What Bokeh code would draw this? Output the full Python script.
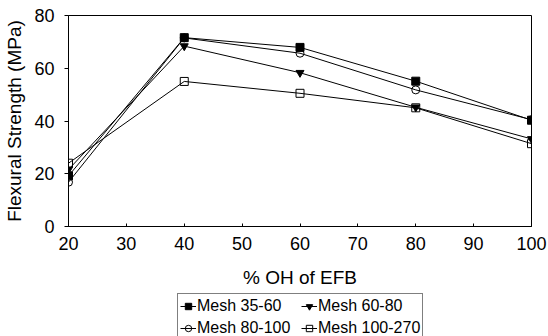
from bokeh.plotting import figure
from bokeh.layouts import column
from bokeh.models import Legend, LegendItem, Range1d, FixedTicker
from bokeh.embed import file_html
from bokeh.resources import INLINE

x_pct = [20, 40, 60, 80, 100]
mesh_35_60 = [19.2, 71.6, 67.9, 55.1, 40.3]
mesh_60_80 = [21.6, 68.4, 58.3, 45.2, 33.2]
mesh_80_100 = [16.8, 71.5, 65.7, 51.8, 40.5]
mesh_100_270 = [24.0, 55.0, 50.5, 45.0, 31.4]
series_labels = ["Mesh 35-60", "Mesh 60-80", "Mesh 80-100", "Mesh 100-270"]
x_ticks = [20, 30, 40, 50, 60, 70, 80, 90, 100]
y_ticks = [0, 20, 40, 60, 80]

FONT = "Liberation Sans"
series = [mesh_35_60, mesh_60_80, mesh_80_100, mesh_100_270]
markers = ["square", "inverted_triangle", "circle", "square"]
fills = ["black", "black", None, None]
sizes = [8, 8, 8, 8]

# main chart
p = figure(width=548, height=293, output_backend="svg", toolbar_location=None,
           x_range=Range1d(20, 100), y_range=Range1d(0, 80),
           min_border_left=68, min_border_right=17, min_border_top=15,
           min_border_bottom=67)
p.outline_line_color = "black"
p.outline_line_width = 1
p.xgrid.visible = False
p.ygrid.visible = False

for ax in (p.xaxis[0], p.yaxis[0]):
    ax.axis_line_color = "black"
    ax.major_tick_line_color = "black"
    ax.minor_tick_line_color = None
    ax.major_label_text_font = FONT
    ax.major_label_text_font_size = "18px"
    ax.major_label_text_color = "black"
    ax.axis_label_text_font = FONT
    ax.axis_label_text_font_size = "19px"
    ax.axis_label_text_font_style = "normal"
    ax.axis_label_text_color = "black"

p.xaxis.ticker = FixedTicker(ticks=x_ticks)
p.yaxis.ticker = FixedTicker(ticks=y_ticks)
p.xaxis.major_tick_in = 3
p.xaxis.major_tick_out = 0
p.xaxis.major_label_standoff = 10
p.xaxis.axis_label = "% OH of EFB"
p.xaxis.axis_label_standoff = 14
p.yaxis.major_tick_in = 0
p.yaxis.major_tick_out = 4
p.yaxis.major_label_standoff = 10
p.yaxis.axis_label = "Flexural Strength (MPa)"
p.yaxis.axis_label_standoff = 6

for ys, mk, fc, sz in zip(series, markers, fills, sizes):
    p.line(x_pct, ys, line_color="black", line_width=1)
    p.scatter(x_pct, ys, marker=mk, size=sz, line_color="black",
              fill_color=fc, line_width=1)

# legend strip below the chart
lg = figure(width=548, height=43, output_backend="svg", toolbar_location=None,
            x_range=Range1d(0, 1), y_range=Range1d(0, 1),
            x_axis_location=None, y_axis_location=None,
            min_border_left=0, min_border_right=0, min_border_top=0,
            min_border_bottom=0)
lg.outline_line_color = None
lg.grid.visible = False

items = []
for lab, ys, mk, fc, sz in zip(series_labels, series, markers, fills, sizes):
    r1 = lg.line(x_pct, ys, line_color="black", line_width=1)
    r2 = lg.scatter(x_pct, ys, marker=mk, size=sz, line_color="black",
                    fill_color=fc, line_width=1)
    items.append(LegendItem(label=lab, renderers=[r1, r2]))

legend = Legend(items=items, location=(109, -5), ncols=2,
                orientation="horizontal",
                label_text_font=FONT, label_text_font_size="16px",
                label_text_color="black",
                glyph_width=16, glyph_height=20, label_height=20,
                label_width=102, label_standoff=1, spacing=2, padding=2,
                margin=0, border_line_color="black", border_line_width=1,
                background_fill_color="white", background_fill_alpha=1)
lg.add_layout(legend, "center")

page = column(p, lg, spacing=0)
open("out.html", "w").write(file_html(page, INLINE))
